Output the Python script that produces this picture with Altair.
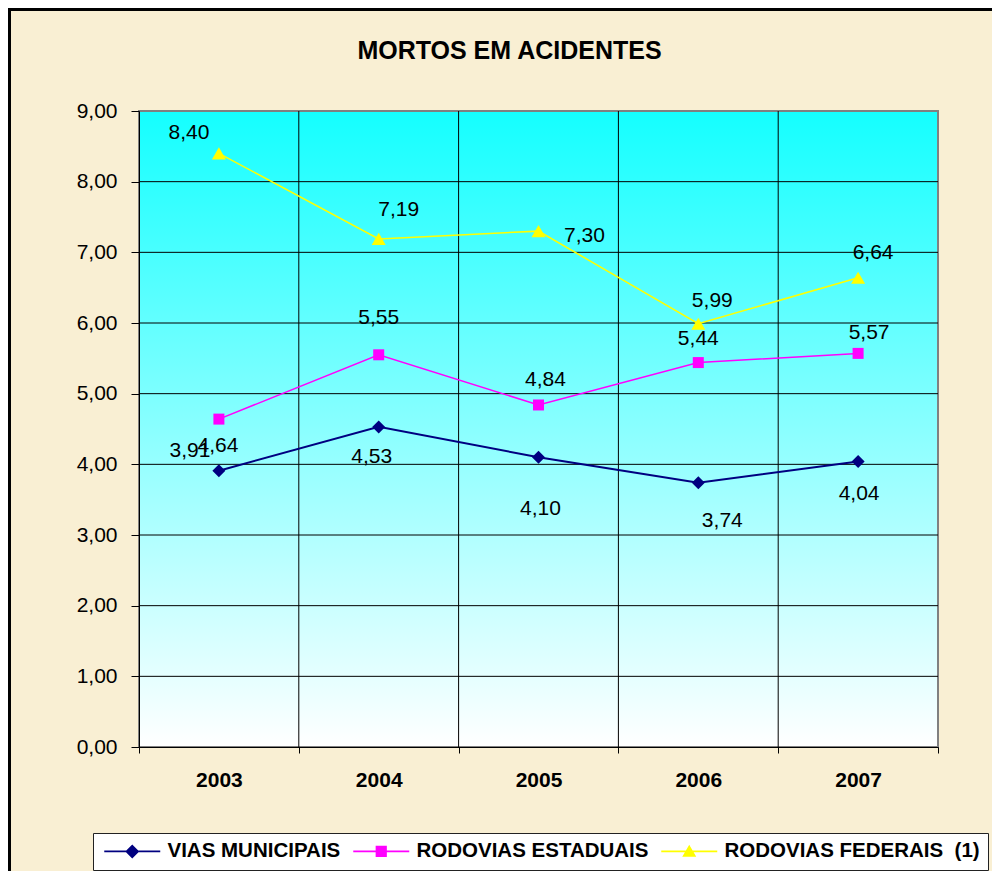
import altair as alt
import pandas as pd

# ---------------- data ----------------
years = ["2003", "2004", "2005", "2006", "2007"]
series_names = ["VIAS MUNICIPAIS", "RODOVIAS ESTADUAIS", "RODOVIAS FEDERAIS\u00a0 (1)"]
vias_municipais = [3.91, 4.53, 4.10, 3.74, 4.04]
rodovias_estaduais = [4.64, 5.55, 4.84, 5.44, 5.57]
rodovias_federais = [8.40, 7.19, 7.30, 5.99, 6.64]
y_tick_values = [0, 1, 2, 3, 4, 5, 6, 7, 8, 9]

# ---------------- styles ----------------
FONT = "Liberation Sans"
colors = ["#000080", "#FF00FF", "#FFFF00"]
shapes = ["diamond", "square", "triangle-up"]
point_sizes = [169, 121, 196]
line_widths = [2, 1.5, 1.5]
# label placement (pixel offsets from each point), per series
label_offsets = [
    [(-29, -20), (-7, 30), (2, 52), (24, 38), (1, 32)],
    [(-1, 27), (0, -37), (7, -25), (0, -24), (11, -20)],
    [(-30, -20), (20, -29), (46, 5), (14, -23), (15, -25)],
]
legend_paths = [
    "M-1,-0.14H7V0.14H-1Z M3,-1L4,0L3,1L2,0Z",
    "M-1,-0.11H7V0.11H-1Z M2.2,-0.8H3.8V0.8H2.2Z",
    "M-1,-0.11H7V0.11H-1Z M3,-0.95L4,0.75H2Z",
]

rows = []
for s, vals in zip(series_names, [vias_municipais, rodovias_estaduais, rodovias_federais]):
    for i, (yr, v) in enumerate(zip(years, vals)):
        rows.append({"serie": s, "ano": yr, "pos": i + 0.5, "valor": v,
                     "rotulo": f"{v:.2f}".replace(".", ",")})
df = pd.DataFrame(rows)

W, H = 799, 636
xscale = alt.Scale(domain=[0, 5], nice=False, zero=False)
yscale = alt.Scale(domain=[0, 9], nice=False, zero=True)

years_js = "[" + ",".join(f"'{y}'" for y in years) + "]"
xaxis = alt.Axis(values=[0, 1, 2, 3, 4, 5],
                 labelExpr=f"datum.value < 5 ? {years_js}[datum.value] : ''",
                 labelOffset=W / 10, labelFlush=False, labelOverlap=False, grid=False,
                 tickSize=6, tickColor="black", domainColor="black", domainWidth=1,
                 labelFont=FONT, labelFontSize=21, labelFontWeight="bold", labelColor="black",
                 labelPadding=16, zindex=1, title=None)
yaxis = alt.Axis(values=y_tick_values,
                 labelExpr="replace(format(datum.value, '.2f'), '.', ',')",
                 grid=False, tickSize=8, tickColor="black", domainColor="black", domainWidth=1,
                 labelFont=FONT, labelFontSize=21, labelColor="black", labelPadding=14,
                 zindex=1, title=None)

X = lambda f: alt.X(f, scale=xscale, axis=xaxis, title=None)
Y = lambda f: alt.Y(f, scale=yscale, axis=yaxis, title=None)

box_df = pd.DataFrame({"x0": [0], "x1": [5], "y0": [0], "y1": [9]})

background = alt.Chart(box_df).mark_rect(
    fill=alt.LinearGradient(
        gradient="linear",
        stops=[alt.GradientStop(color="#14FFFF", offset=0),
               alt.GradientStop(color="#FFFFFF", offset=1)],
        x1=0, x2=0, y1=0, y2=1),
    stroke="#808080", strokeWidth=2,
).encode(x=X("x0:Q"), x2="x1:Q", y=Y("y0:Q"), y2="y1:Q")

hgrid = alt.Chart(pd.DataFrame({"v": y_tick_values[1:-1]})).mark_rule(
    color="black", strokeWidth=1).encode(y=Y("v:Q"))
vgrid = alt.Chart(pd.DataFrame({"v": [1, 2, 3, 4]})).mark_rule(
    color="black", strokeWidth=1).encode(x=X("v:Q"))

layers = [background, hgrid, vgrid]

for k, s in enumerate(series_names):
    base = alt.Chart(df).transform_filter(alt.datum.serie == s)
    layers.append(base.mark_line(color=colors[k], strokeWidth=line_widths[k]).encode(
        x=X("pos:Q"), y=Y("valor:Q")))
for k, s in enumerate(series_names):
    base = alt.Chart(df).transform_filter(alt.datum.serie == s)
    layers.append(base.mark_point(shape=shapes[k], filled=True, size=point_sizes[k],
                                  color=colors[k], opacity=1).encode(
        x=X("pos:Q"), y=Y("valor:Q")))

for k, s in enumerate(series_names):
    for i, yr in enumerate(years):
        dx, dy = label_offsets[k][i]
        layers.append(
            alt.Chart(df)
            .transform_filter((alt.datum.serie == s) & (alt.datum.ano == yr))
            .mark_text(dx=dx, dy=dy, font=FONT, fontSize=21, color="black")
            .encode(x=X("pos:Q"), y=Y("valor:Q"), text="rotulo:N")
        )

legend = alt.Legend(title=None, orient="none", legendX=-46, legendY=722,
                    direction="horizontal", columns=3, symbolSize=196,
                    labelFont=FONT, labelFontSize=20.5, labelFontWeight="bold",
                    labelColor="black", labelLimit=600, labelOffset=46,
                    columnPadding=9, padding=8, strokeColor="#222222",
                    fillColor="white", symbolStrokeWidth=0)

legend_layer = alt.Chart(df).transform_filter("false").mark_point(filled=True, opacity=1).encode(
    x=X("pos:Q"), y=Y("valor:Q"),
    color=alt.Color("serie:N", scale=alt.Scale(domain=series_names, range=colors), legend=legend),
    shape=alt.Shape("serie:N", scale=alt.Scale(domain=series_names, range=legend_paths), legend=legend),
)
layers.append(legend_layer)

frame = alt.Chart(box_df).mark_rect(filled=False, stroke="black", strokeWidth=3).encode(
    x=alt.value(-129.5), x2=alt.value(900), y=alt.value(-101.5), y2=alt.value(800))
layers.append(frame)

chart = alt.layer(*layers).properties(
    width=W, height=H,
    title=alt.TitleParams("MORTOS EM ACIDENTES", font=FONT, fontSize=25, fontWeight="bold",
                          color="black", anchor="middle", dx=-29, offset=-76,
                          baseline="alphabetic"),
    autosize=alt.AutoSizeParams(type="none"),
    padding={"left": 131, "top": 103, "right": 54, "bottom": 124},
    background="#F9EFD3",
).configure_view(stroke=None)

chart.save("out.html", embed_options={"renderer": "svg", "actions": False})
